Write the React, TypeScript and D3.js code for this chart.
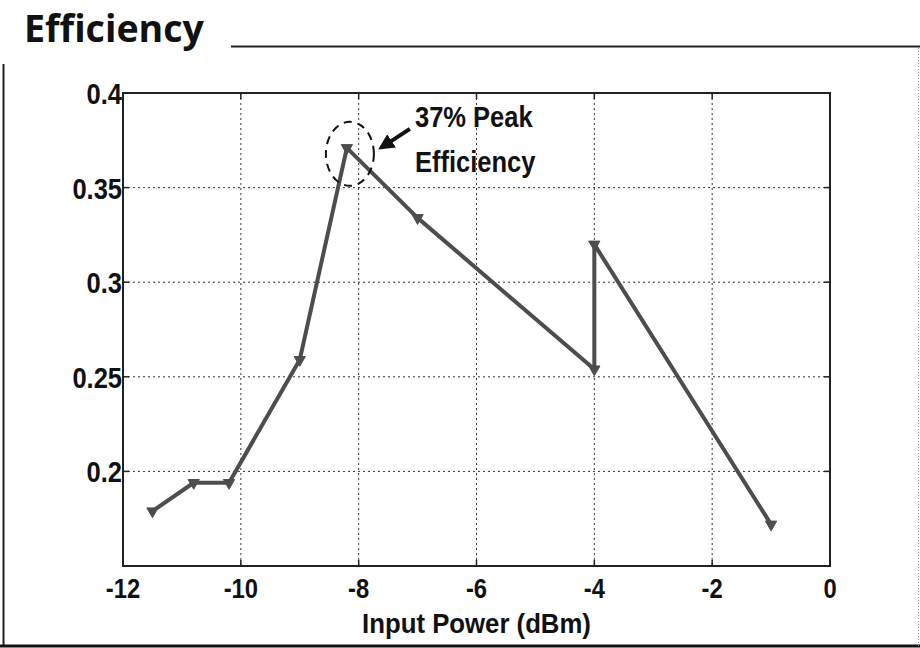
import { line, scaleLinear, symbol, symbolTriangle } from 'd3'
import type { ReactNode } from 'react'

const inputPower = [-11.5, -10.8, -10.2, -9, -8.2, -7, -4, -4, -1]
const efficiency = [0.179, 0.194, 0.194, 0.259, 0.371, 0.334, 0.254, 0.32, 0.172]
const xTicks = [-12, -10, -8, -6, -4, -2, 0]
const yTicks = [0.2, 0.25, 0.3, 0.35, 0.4]
const yTickLabels = ['0.2', '0.25', '0.3', '0.35', '0.4']
const peakLabel = ['37% Peak', 'Efficiency']

const sans = '"Liberation Sans", Arial, sans-serif'

type LabelProps = {
  readonly x: number
  readonly y: number
  readonly size: number
  readonly squeeze: number
  readonly anchor?: 'start' | 'middle' | 'end'
  readonly children: ReactNode
}

// condensed bold text, imitating the narrow font of the scan
function Label({ x, y, size, squeeze, anchor = 'start', children }: LabelProps) {
  return (
    <text
      transform={`translate(${x},${y}) scale(${squeeze},1)`}
      textAnchor={anchor}
      fontFamily={sans}
      fontWeight={700}
      fontSize={size}
      fill="#111"
    >
      {children}
    </text>
  )
}

export default function App() {
  const width = 920
  const height = 648
  const plot = { left: 123, right: 830, top: 93, bottom: 566 }

  const x = scaleLinear().domain([-12, 0]).range([plot.left, plot.right])
  const y = scaleLinear().domain([0.15, 0.4]).range([plot.bottom, plot.top])

  const points = inputPower.map((p, i) => ({ p, e: efficiency[i] }))
  const path =
    line<{ p: number; e: number }>()
      .x((d) => x(d.p))
      .y((d) => y(d.e))(points) ?? ''
  const marker = symbol().type(symbolTriangle).size(55)() ?? ''

  const peak = points[4]
  const peakX = x(peak.p)
  const peakY = y(peak.e)
  const lineColor = '#4d4d4d'

  return (
    <>
      <style>{'body{margin:0}'}</style>
      <svg width={width} height={height} style={{ display: 'block', background: '#fff' }}>
        <defs>
          <marker id="arrowhead" viewBox="0 0 10 10" refX="8" refY="5" markerWidth="4" markerHeight="4" orient="auto">
            <path d="M0,0 L10,5 L0,10 z" fill="#111" />
          </marker>
        </defs>

        {/* page frame */}
        <text
          x={24}
          y={42}
          fontFamily="'Open Sans', Lato, sans-serif"
          fontWeight={700}
          fontSize={37}
          fill="#111"
          style={{ fontVariantLigatures: 'none' }}
          textLength={180}
          lengthAdjust="spacingAndGlyphs"
        >
          Efficiency
        </text>
        <line x1={231} x2={width} y1={46.5} y2={46.5} stroke="#222" strokeWidth={2} />
        <line x1={3.5} x2={3.5} y1={64} y2={647} stroke="#222" strokeWidth={2} />
        <line x1={0} x2={width} y1={646} y2={646} stroke="#111" strokeWidth={3} />
        <line x1={918.5} x2={918.5} y1={48} y2={646} stroke="#999" strokeWidth={1} strokeDasharray="1,2" />

        {/* grid */}
        {xTicks.slice(1, -1).map((t) => (
          <line key={`gx${t}`} x1={x(t)} x2={x(t)} y1={plot.top} y2={plot.bottom} stroke="#333" strokeWidth={1} strokeDasharray="2,3" />
        ))}
        {yTicks.slice(0, -1).map((t) => (
          <line key={`gy${t}`} x1={plot.left} x2={plot.right} y1={y(t)} y2={y(t)} stroke="#333" strokeWidth={1} strokeDasharray="2,3" />
        ))}

        {/* axes box */}
        <rect
          x={plot.left}
          y={plot.top}
          width={plot.right - plot.left}
          height={plot.bottom - plot.top}
          fill="none"
          stroke="#222"
          strokeWidth={2}
        />
        {xTicks.map((t) => (
          <g key={`tx${t}`}>
            <line x1={x(t)} x2={x(t)} y1={plot.bottom} y2={plot.bottom - 6} stroke="#222" strokeWidth={1.5} />
            <line x1={x(t)} x2={x(t)} y1={plot.top} y2={plot.top + 6} stroke="#222" strokeWidth={1.5} />
            <Label x={x(t)} y={598} size={28} squeeze={0.85} anchor="middle">
              {t < 0 ? `-${Math.abs(t)}` : t}
            </Label>
          </g>
        ))}
        {yTicks.map((t, i) => (
          <g key={`ty${t}`}>
            <line x1={plot.left} x2={plot.left + 6} y1={y(t)} y2={y(t)} stroke="#222" strokeWidth={1.5} />
            <line x1={plot.right} x2={plot.right - 6} y1={y(t)} y2={y(t)} stroke="#222" strokeWidth={1.5} />
            <Label x={plot.left - 1} y={y(t) + 11} size={30} squeeze={0.85} anchor="end">
              {yTickLabels[i]}
            </Label>
          </g>
        ))}
        <Label x={(plot.left + plot.right) / 2} y={633} size={28} squeeze={0.92} anchor="middle">
          Input Power (dBm)
        </Label>

        {/* series */}
        <path d={path} fill="none" stroke={lineColor} strokeWidth={4} strokeLinejoin="round" />
        {points.map((d, i) => (
          <path
            key={i}
            d={marker}
            transform={`translate(${x(d.p)},${y(d.e)}) rotate(180)`}
            fill={lineColor}
            stroke={lineColor}
            strokeWidth={1}
          />
        ))}

        {/* peak annotation */}
        <ellipse
          cx={peakX + 3}
          cy={peakY + 6}
          rx={24}
          ry={32}
          fill="none"
          stroke="#111"
          strokeWidth={2}
          strokeDasharray="8,6"
        />
        <line
          x1={peakX + 63}
          y1={peakY - 19}
          x2={peakX + 34}
          y2={peakY}
          stroke="#111"
          strokeWidth={4}
          markerEnd="url(#arrowhead)"
        />
        {peakLabel.map((s, i) => (
          <Label key={s} x={415} y={127 + i * 45} size={30} squeeze={0.85}>
            {s}
          </Label>
        ))}
      </svg>
    </>
  )
}
